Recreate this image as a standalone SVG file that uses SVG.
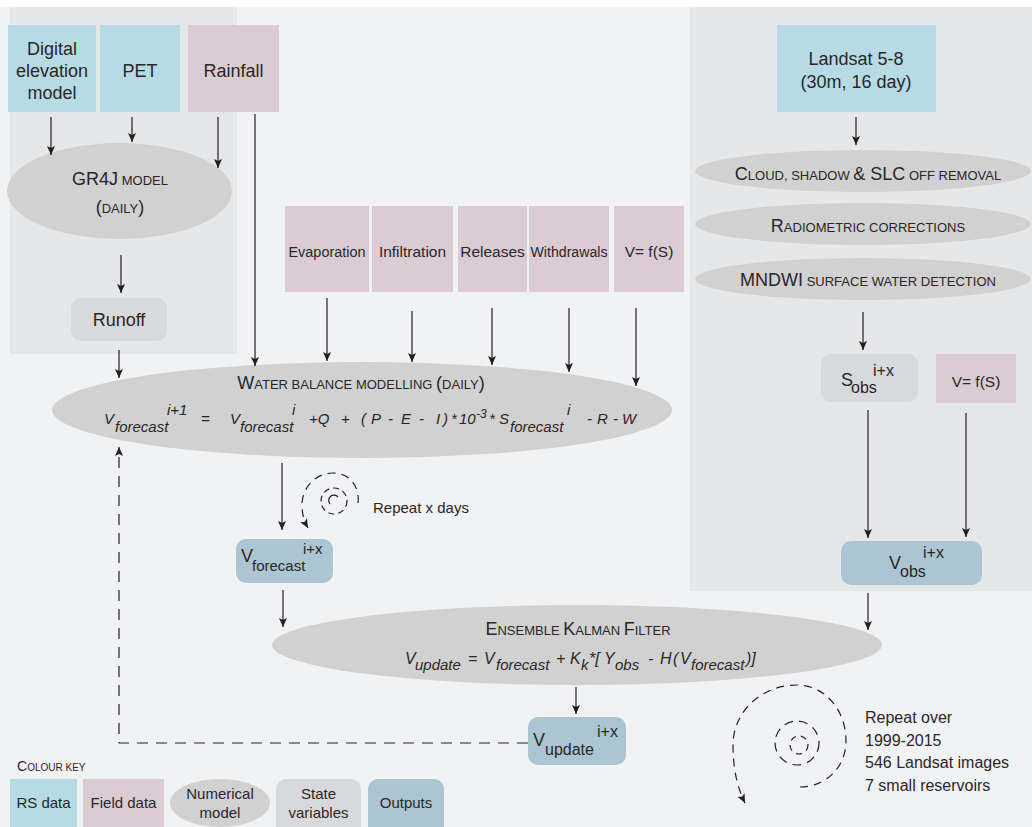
<svg xmlns="http://www.w3.org/2000/svg" width="1032" height="827" viewBox="0 0 1032 827">
<defs>
<style>
text{font-family:"Liberation Sans",Arial,sans-serif;fill:#2a2627}
.m{text-anchor:middle}
.s18{font-size:18px}
.s16{font-size:16px}
.s15{font-size:15px}
.s14{font-size:14px}
.fb{font-size:15.5px}
.sc{font-size:13px}
.it{font-style:italic}
.rs{fill:#b7dbe5}
.fd{fill:#dbccd4}
.nm{fill:#d1d1d1}
.sv{fill:#d8d9db}
.op{fill:#abc6d2}
.ln{stroke:#231f20;stroke-width:1.2;fill:none}
.ar{marker-end:url(#ah)}
.ds{stroke-dasharray:11 8}
.sp{stroke-dasharray:8 6}
</style>
<marker id="ah" markerWidth="10" markerHeight="8" refX="9" refY="4" orient="auto" markerUnits="userSpaceOnUse">
<path d="M0,0 L9,4 L0,8 L2,4 z" fill="#231f20"/>
</marker>
</defs>

<rect width="1032" height="827" fill="#f1f2f4"/>
<rect width="1032" height="7" fill="#ffffff"/>
<rect x="10" y="7" width="227" height="347" fill="#e6e7e9"/>
<rect x="690" y="7" width="342" height="584" fill="#e6e7e9"/>

<g id="dem">
<rect class="rs" x="8" y="25" width="88" height="87"/>
<text class="m s18" x="52" y="55">Digital</text>
<text class="m s18" x="52" y="77">elevation</text>
<text class="m s18" x="52" y="99">model</text>
</g>
<g id="pet">
<rect class="rs" x="100" y="25" width="80" height="87"/>
<text class="m s18" x="140" y="77">PET</text>
</g>
<g id="rainfall">
<rect class="fd" x="188" y="25" width="91" height="87"/>
<text class="m s18" x="233.5" y="77">Rainfall</text>
</g>
<g id="gr4j">
<ellipse class="nm" cx="119.5" cy="191" rx="112.5" ry="48"/>
<text class="m" x="120" y="185"><tspan class="s18">GR4J</tspan><tspan class="sc"> MODEL</tspan></text>
<text class="m" x="120" y="213"><tspan class="s18">(</tspan><tspan class="sc">DAILY</tspan><tspan class="s18">)</tspan></text>
</g>
<g id="runoff">
<rect class="sv" x="71" y="298" width="96" height="43" rx="10"/>
<text class="m s18" x="119" y="326">Runoff</text>
</g>

<g id="evaporation">
<rect class="fd" x="285" y="206" width="84" height="86"/>
<text class="m fb" x="327" y="257" textLength="77" lengthAdjust="spacingAndGlyphs">Evaporation</text>
</g>
<g id="infiltration">
<rect class="fd" x="372" y="206" width="81" height="86"/>
<text class="m fb" x="412.5" y="257">Infiltration</text>
</g>
<g id="releases">
<rect class="fd" x="458" y="206" width="69" height="86"/>
<text class="m fb" x="492.5" y="257">Releases</text>
</g>
<g id="withdrawals">
<rect class="fd" x="529" y="206" width="80" height="86"/>
<text class="m fb" x="569" y="257" textLength="77" lengthAdjust="spacingAndGlyphs">Withdrawals</text>
</g>
<g id="vfs1">
<rect class="fd" x="614" y="206" width="70" height="86"/>
<text class="m fb" x="649" y="257">V= f(S)</text>
</g>

<g id="waterbalance">
<ellipse class="nm" cx="362" cy="410" rx="310" ry="48"/>
<text class="m" x="361" y="389"><tspan class="s18">W</tspan><tspan class="sc">ATER BALANCE MODELLING </tspan><tspan class="s18">(</tspan><tspan class="sc">DAILY</tspan><tspan class="s18">)</tspan></text>
<text class="it s15"><tspan x="104" y="424">V</tspan><tspan x="115" y="432">forecast</tspan><tspan x="167" y="415">i+1</tspan><tspan x="201" y="424">=</tspan><tspan x="230" y="424">V</tspan><tspan x="240" y="432">forecast</tspan><tspan x="292" y="415">i</tspan><tspan x="309" y="424">+Q</tspan><tspan x="341" y="424">+</tspan><tspan x="361" y="424">(</tspan><tspan x="371" y="424">P</tspan><tspan x="388" y="424">-</tspan><tspan x="401" y="424">E</tspan><tspan x="419" y="424">-</tspan><tspan x="436" y="424">I</tspan><tspan x="443" y="424">)</tspan><tspan x="451" y="424">*</tspan><tspan x="459" y="424">10</tspan><tspan x="476" y="418" font-size="12">-3</tspan><tspan x="489" y="424">*</tspan><tspan x="499" y="424">S</tspan><tspan x="510" y="432">forecast</tspan><tspan x="567" y="415">i</tspan><tspan x="587" y="424">-</tspan><tspan x="597" y="424">R</tspan><tspan x="613" y="424">-</tspan><tspan x="622" y="424">W</tspan></text>
</g>

<g id="vforecast">
<rect class="op" x="236" y="539" width="97" height="44" rx="10"/>
<text class="s18" x="241" y="562">V</text>
<text class="s15" x="252" y="571">forecast</text>
<text class="s15" x="303" y="554">i+x</text>
</g>
<g id="repeatdays">
<text class="s15" x="373" y="513">Repeat x days</text>
</g>

<g id="landsat">
<rect class="rs" x="777" y="25" width="159" height="87"/>
<text class="m s18" x="856" y="65">Landsat 5-8</text>
<text class="m s18" x="856" y="88">(30m, 16 day)</text>
</g>
<g id="cloud">
<ellipse class="nm" cx="863" cy="171" rx="168" ry="21"/>
<text class="m" x="868" y="180"><tspan class="s18">C</tspan><tspan class="sc">LOUD, SHADOW </tspan><tspan class="s18">&amp; SLC</tspan><tspan class="sc"> OFF REMOVAL</tspan></text>
</g>
<g id="radiometric">
<ellipse class="nm" cx="863" cy="224" rx="168" ry="21"/>
<text class="m" x="868" y="232"><tspan class="s18">R</tspan><tspan class="sc">ADIOMETRIC CORRECTIONS</tspan></text>
</g>
<g id="mndwi">
<ellipse class="nm" cx="863" cy="279" rx="168" ry="21"/>
<text class="m" x="868" y="286"><tspan class="s18">MNDWI</tspan><tspan class="sc"> SURFACE WATER DETECTION</tspan></text>
</g>
<g id="sobs">
<rect class="sv" x="821" y="354" width="97" height="48" rx="10"/>
<text class="s18" x="841" y="386">S</text>
<text class="s16" x="851" y="393">obs</text>
<text class="s16" x="873" y="376">i+x</text>
</g>
<g id="vfs2">
<rect class="fd" x="936" y="354" width="80" height="49"/>
<text class="m fb" x="976" y="387">V= f(S)</text>
</g>
<g id="vobs">
<rect class="op" x="841" y="541" width="141" height="44" rx="10"/>
<text class="s18" x="889" y="569">V</text>
<text class="s16" x="900" y="577">obs</text>
<text class="s16" x="923" y="558">i+x</text>
</g>

<g id="kalman">
<ellipse class="nm" cx="577" cy="645" rx="305" ry="40"/>
<text class="m" x="578" y="635"><tspan class="s18">E</tspan><tspan class="sc">NSEMBLE </tspan><tspan class="s18">K</tspan><tspan class="sc">ALMAN </tspan><tspan class="s18">F</tspan><tspan class="sc">ILTER</tspan></text>
<text class="it s16"><tspan x="405" y="664">V</tspan><tspan x="415" y="670" font-size="15">update</tspan><tspan x="468" y="664">=</tspan><tspan x="484" y="664">V</tspan><tspan x="496" y="670" font-size="15">forecast</tspan><tspan x="556" y="664">+</tspan><tspan x="570" y="664">K</tspan><tspan x="581" y="670" font-size="15">k</tspan><tspan x="589" y="664">*[</tspan><tspan x="604" y="664">Y</tspan><tspan x="615" y="670" font-size="15">obs</tspan><tspan x="648" y="664">-</tspan><tspan x="660" y="664">H</tspan><tspan x="673" y="664">(</tspan><tspan x="680" y="664">V</tspan><tspan x="691" y="670" font-size="15">forecast</tspan><tspan x="746" y="664">)]</tspan></text>
</g>

<g id="vupdate">
<rect class="op" x="528" y="717" width="98" height="48" rx="10"/>
<text class="s18" x="533" y="746">V</text>
<text class="s16" x="545" y="755">update</text>
<text class="s16" x="597" y="737">i+x</text>
</g>

<g id="repeatover">
<text class="s16" x="865" y="723">Repeat over</text>
<text class="s16" x="865" y="746">1999-2015</text>
<text class="s16" x="865" y="768">546 Landsat images</text>
<text class="s16" x="865" y="791">7 small reservoirs</text>
</g>

<g id="colourkey">
<text x="17" y="771"><tspan font-size="14">C</tspan><tspan font-size="10">OLOUR KEY</tspan></text>
<rect class="rs" x="10" y="779" width="67" height="48"/>
<text class="m s15" x="43.5" y="808">RS data</text>
<rect class="fd" x="83" y="779" width="81" height="48"/>
<text class="m s15" x="123.5" y="808">Field data</text>
<ellipse class="nm" cx="220" cy="803" rx="50" ry="24"/>
<text class="m s15" x="220" y="799">Numerical</text>
<text class="m s15" x="220" y="818">model</text>
<rect class="sv" x="276" y="779" width="85" height="60" rx="10"/>
<text class="m s15" x="318.5" y="799">State</text>
<text class="m s15" x="318.5" y="818">variables</text>
<rect class="op" x="368" y="779" width="76" height="60" rx="10"/>
<text class="m s15" x="406" y="808">Outputs</text>
</g>

<g id="connectors">
<line class="ln ar" x1="51" y1="117" x2="51" y2="155"/>
<line class="ln ar" x1="132" y1="117" x2="132" y2="142"/>
<line class="ln ar" x1="218" y1="117" x2="218" y2="168"/>
<line class="ln ar" x1="121" y1="255" x2="121" y2="293"/>
<line class="ln ar" x1="119" y1="350" x2="119" y2="378"/>
<line class="ln ar" x1="255" y1="114" x2="255" y2="366"/>
<line class="ln ar" x1="327" y1="298" x2="327" y2="361"/>
<line class="ln ar" x1="412" y1="311" x2="412" y2="362"/>
<line class="ln ar" x1="492" y1="308" x2="492" y2="365"/>
<line class="ln ar" x1="569" y1="308" x2="569" y2="372"/>
<line class="ln ar" x1="636" y1="308" x2="636" y2="386"/>
<line class="ln ar" x1="282" y1="463" x2="282" y2="530"/>
<line class="ln ar" x1="283" y1="590" x2="283" y2="627"/>
<line class="ln ar" x1="856" y1="117" x2="856" y2="145"/>
<line class="ln ar" x1="863" y1="312" x2="863" y2="350"/>
<line class="ln ar" x1="868" y1="410" x2="868" y2="538"/>
<line class="ln ar" x1="966" y1="413" x2="966" y2="537"/>
<line class="ln ar" x1="868" y1="593" x2="868" y2="630"/>
<line class="ln ar" x1="576" y1="687" x2="576" y2="714"/>
<path class="ln ar ds" d="M528,743 H119 V447"/>
<path class="ln ar sp" d="M358,503 C360,486 349,473 333,473 C315,473 302,488 302,505 C302,514 304,521 308,528"/>
<circle class="ln" cx="334" cy="501" r="13" stroke-dasharray="6 4"/>
<path class="ln" d="M330,504 A5,5 0 0 1 338,497"/>
<path class="ln ar sp" d="M800,787 C826,787 846,767 846,741 C846,709 824,685 797,685 C761,685 733,712 733,745 C733,768 737,787 745,803"/>
<circle class="ln" cx="797" cy="743" r="22" stroke-dasharray="9 6"/>
<circle class="ln" cx="799" cy="745" r="9" stroke-dasharray="6 5"/>
</g>
</svg>
